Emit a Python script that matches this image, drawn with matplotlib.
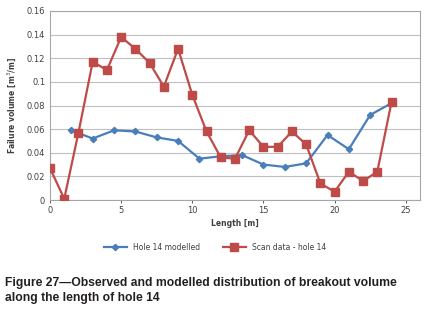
import matplotlib
matplotlib.use("Agg")
import matplotlib.pyplot as plt
from matplotlib.ticker import FuncFormatter

# scan data - hole 14
scan_x = [0, 1, 2, 3, 4, 5, 6, 7, 8, 9, 10, 11, 12, 13, 14, 15, 16, 17, 18, 19, 20, 21, 22, 23, 24]
scan_y = [0.027, 0.001, 0.057, 0.117, 0.110, 0.138, 0.128, 0.116, 0.096, 0.128, 0.089, 0.058,
          0.036, 0.035, 0.059, 0.045, 0.045, 0.058, 0.047, 0.014, 0.007, 0.024, 0.016, 0.024, 0.083]

# hole 14 modelled
model_x = [1.5, 3, 4.5, 6, 7.5, 9, 10.5, 12, 13.5, 15, 16.5, 18, 19.5, 21, 22.5, 24]
model_y = [0.059, 0.052, 0.059, 0.058, 0.053, 0.050, 0.035, 0.037, 0.038, 0.030, 0.028, 0.031,
           0.055, 0.043, 0.072, 0.082]

y_ticks = [0, 0.02, 0.04, 0.06, 0.08, 0.1, 0.12, 0.14, 0.16]
x_ticks = [0, 5, 10, 15, 20, 25]

blue = '#4A7EBB'
red = '#BE4B48'
grid_col = '#BFBFBF'
txt_col = '#404040'

fig = plt.figure(figsize=(4.25, 3.11), dpi=100)
ax = fig.add_axes([50 / 425, 111 / 311, 370 / 425, 189 / 311])

ax.plot(model_x, model_y, color=blue, lw=1.6, marker='D', ms=3.2, label='Hole 14 modelled', zorder=3)
ax.plot(scan_x, scan_y, color=red, lw=1.6, marker='s', ms=5.5, label='Scan data - hole 14', zorder=4)

ax.set_xlim(0, 26)
ax.set_ylim(0, 0.16)
ax.set_yticks(y_ticks)
ax.set_xticks(x_ticks)
ax.yaxis.set_major_formatter(FuncFormatter(lambda v, p: '0' if v == 0 else ('%g' % v)))
ax.grid(axis='y', color=grid_col, lw=0.8)
ax.set_axisbelow(True)
for s in ax.spines.values():
    s.set_color('#A6A6A6')
    s.set_linewidth(0.8)
ax.tick_params(axis='both', labelsize=6, colors=txt_col, length=2.5, width=0.6)
ax.tick_params(axis='y', length=0)
ax.tick_params(axis='x', pad=2)

ax.set_xlabel('Length [m]', fontsize=5.5, fontweight='bold', color=txt_col, labelpad=3)
ax.set_ylabel('Failure volume [m$^3$/m]', fontsize=5.5, fontweight='bold', color=txt_col, labelpad=6)

fig.legend(loc='center', bbox_to_anchor=(215 / 425, 1 - 247 / 311), ncol=2, frameon=False,
           fontsize=5.5, handlelength=3, columnspacing=3, labelcolor=txt_col)

fig.text(5 / 425, 1 - 283 / 311, 'Figure 27\u2014Observed and modelled distribution of breakout volume',
         fontsize=8.7, fontweight='bold', family='Liberation Sans', color='#231F20', va='center')
fig.text(5 / 425, 1 - 298 / 311, 'along the length of hole 14',
         fontsize=8.7, fontweight='bold', family='Liberation Sans', color='#231F20', va='center')

fig.savefig('out.png', dpi=100)
